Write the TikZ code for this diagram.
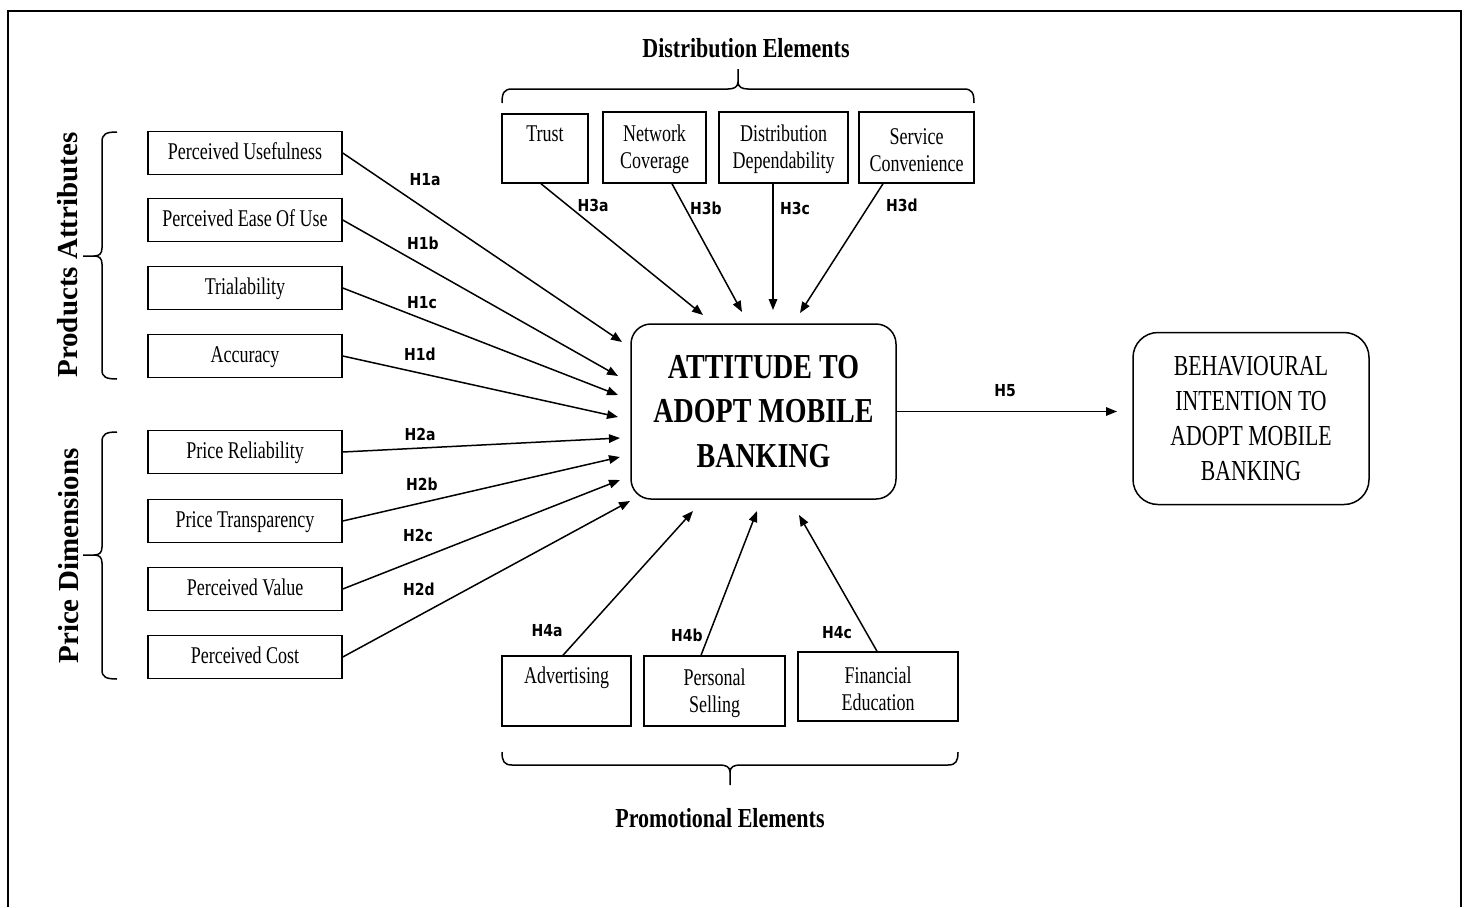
\documentclass[tikz,border=0pt]{standalone}
\usepackage{fontspec}
\setmainfont{Liberation Serif}[FakeStretch=0.75]
\newfontfamily\headfont{Liberation Serif}[FakeStretch=0.8]
\newfontfamily\sidefont{Liberation Serif}
\newfontfamily\hypfont{DejaVu Sans}[FakeStretch=0.85]
\usetikzlibrary{arrows.meta}

% extra height on the first line of a boxed label
\newcommand\toprule{\rule{0pt}{20.5pt}}

\begin{document}
\begin{tikzpicture}[x=1pt, y=-1pt,
  outerframe/.style={line width=2pt},
  attr/.style={draw, line width=1.5pt, minimum width=194pt, minimum height=43pt,
    inner sep=0pt, text height=18pt, text depth=5pt, font=\fontsize{24}{27}\selectfont},
  elem/.style={draw, line width=1.5pt, inner sep=0pt, align=center,
    font=\fontsize{24}{27}\selectfont},
  core/.style={draw, line width=1.5pt, align=center, inner sep=0pt},
  hyp/.style={font=\hypfont\bfseries\fontsize{16.5}{16.5}\selectfont, inner sep=0pt},
  link/.style={line width=1.5pt, -{Triangle[length=11pt, width=8.5pt]}},
  brace/.style={line width=1.5pt},
  group/.style={font=\headfont\bfseries\fontsize{27.5}{30}\selectfont, anchor=base, inner sep=0pt},
  side/.style={font=\sidefont\bfseries\fontsize{29}{30}\selectfont, rotate=90, anchor=base, inner sep=0pt}]

\useasboundingbox (0,0) rectangle (1466,907);

% outer frame (open at the bottom)
\draw[outerframe] (8,907) -- (8,11) -- (1461,11) -- (1461,907);

% ---- product attributes ----
\node[attr] (pu)   at (245,153) {Perceived Usefulness};
\node[attr] (peou) at (245,220) {Perceived Ease Of Use};
\node[attr] (tri)  at (245,288) {Trialability};
\node[attr] (acc)  at (245,356) {Accuracy};
% ---- price dimensions ----
\node[attr] (prel) at (245,452) {Price Reliability};
\node[attr] (ptr)  at (245,521) {Price Transparency};
\node[attr] (pval) at (245,589) {Perceived Value};
\node[attr] (pcost)at (245,657) {Perceived Cost};

% side groups
\node[side] (prodlab)  at (77,255) {Products Attributes};
\node[side] (pricelab) at (78,556) {Price Dimensions};
\draw[brace] (117,132) .. controls (106,132) and (102,134) .. (102,142) -- (102,248)
  .. controls (102,254) and (99,256) .. (94,256) -- (83,256)
  (94,256) .. controls (99,256) and (102,258) .. (102,264) -- (102,370)
  .. controls (102,377) and (106,379) .. (117,379);
\draw[brace] (117,432) .. controls (106,432) and (102,434) .. (102,442) -- (102,547)
  .. controls (102,553) and (99,555) .. (94,555) -- (83,555)
  (94,555) .. controls (99,555) and (102,557) .. (102,563) -- (102,670)
  .. controls (102,677) and (106,679) .. (117,679);

% ---- distribution elements ----
\node[elem, minimum width=86pt,  minimum height=69pt] (trust) at (545,148.5) {\toprule Trust\\\strut};
\node[elem, minimum width=103pt, minimum height=71pt] (netc)  at (654.5,147.5) {\toprule Network\\Coverage};
\node[elem, minimum width=129pt, minimum height=71pt] (distd) at (783.5,147.5) {\toprule Distribution\\Dependability};
\node[elem, minimum width=115pt, minimum height=71pt] (servc) at (916.5,147.5) {\toprule Service\\Convenience};
\node[group] (distlab) at (746,57) {Distribution Elements};
\draw[brace] (502,103) .. controls (502,93) and (504,89) .. (512,89) -- (728,89)
  .. controls (734,89) and (738,87) .. (738,82) -- (738,69)
  (738,82) .. controls (738,87) and (742,89) .. (748,89) -- (964,89)
  .. controls (972,89) and (974,93) .. (974,103);

% ---- promotional elements ----
\node[elem, minimum width=129pt, minimum height=70pt] (adv)  at (566.5,691) {\toprule Advertising\\\strut};
\node[elem, minimum width=141pt, minimum height=70pt] (psell) at (714.5,691) {\toprule Personal\\Selling};
\node[elem, minimum width=160pt, minimum height=69pt] (fined) at (878,686.5) {\toprule Financial\\Education};
\node[group] (promlab) at (720,827) {Promotional Elements};
\draw[brace] (502,752) .. controls (502,761) and (504,765) .. (512,765) -- (720,765)
  .. controls (726,765) and (730,767) .. (730,772) -- (730,785)
  (730,772) .. controls (730,767) and (734,765) .. (740,765) -- (948,765)
  .. controls (956,765) and (958,761) .. (958,752);

% ---- outcome constructs ----
\node[core, rounded corners=20pt, minimum width=265pt, minimum height=175pt,
  font=\headfont\bfseries\fontsize{35}{44.5}\selectfont] (att) at (763.5,411.5)
  {ATTITUDE TO\\ADOPT MOBILE\\BANKING};
\node[core, rounded corners=25pt, minimum width=236pt, minimum height=172pt,
  font=\fontsize{29}{35}\selectfont] (bi) at (1251,418.5)
  {BEHAVIOURAL\\INTENTION TO\\ADOPT MOBILE\\BANKING};

% arrow end points near the attitude construct
\coordinate (t1a) at (622,342);
\coordinate (t1b) at (618,376);
\coordinate (t1c) at (618,395);
\coordinate (t1d) at (618,417);
\coordinate (t2a) at (620,438);
\coordinate (t2b) at (620,457);
\coordinate (t2c) at (620,480);
\coordinate (t2d) at (630,501);
\coordinate (t3a) at (703,315);
\coordinate (t3b) at (742,312);
\coordinate (t3c) at (773,310);
\coordinate (t3d) at (800,313);
\coordinate (t4a) at (693,511);
\coordinate (t4b) at (757,511);
\coordinate (t4c) at (799,515);
\coordinate (t5)  at (1117,411.5);

% hypothesised paths
\draw[link] (pu.east)    -- (t1a);
\draw[link] (peou.east)  -- (t1b);
\draw[link] (tri.east)   -- (t1c);
\draw[link] (acc.east)   -- (t1d);
\draw[link] (prel.east)  -- (t2a);
\draw[link] (ptr.east)   -- (t2b);
\draw[link] (pval.east)  -- (t2c);
\draw[link] (pcost.east) -- (t2d);
\draw[link] ([xshift=-4pt]trust.south)   -- (t3a);
\draw[link] ([xshift=17.5pt]netc.south)  -- (t3b);
\draw[link] ([xshift=-10.5pt]distd.south)-- (t3c);
\draw[link] ([xshift=-33.5pt]servc.south)-- (t3d);
\draw[link] ([xshift=-3.5pt]adv.north)   -- (t4a);
\draw[link] ([xshift=-13.5pt]psell.north)-- (t4b);
\draw[link] ([xshift=-1pt]fined.north)   -- (t4c);
\draw[link] (att.east) -- (t5);

% hypothesis labels
\node[hyp] (h1a) at (425,180) {H1a};
\node[hyp] (h1b) at (423,243) {H1b};
\node[hyp] (h1c) at (422,303) {H1c};
\node[hyp] (h1d) at (420,354) {H1d};
\node[hyp] (h2a) at (420,434) {H2a};
\node[hyp] (h2b) at (422,484) {H2b};
\node[hyp] (h2c) at (418,535) {H2c};
\node[hyp] (h2d) at (419,589) {H2d};
\node[hyp] (h3a) at (593,205) {H3a};
\node[hyp] (h3b) at (706,208) {H3b};
\node[hyp] (h3c) at (795,208) {H3c};
\node[hyp] (h3d) at (902,205) {H3d};
\node[hyp] (h4a) at (547,631) {H4a};
\node[hyp] (h4b) at (687,635) {H4b};
\node[hyp] (h4c) at (837,633) {H4c};
\node[hyp] (h5)  at (1005,391) {H5};

\end{tikzpicture}
\end{document}
